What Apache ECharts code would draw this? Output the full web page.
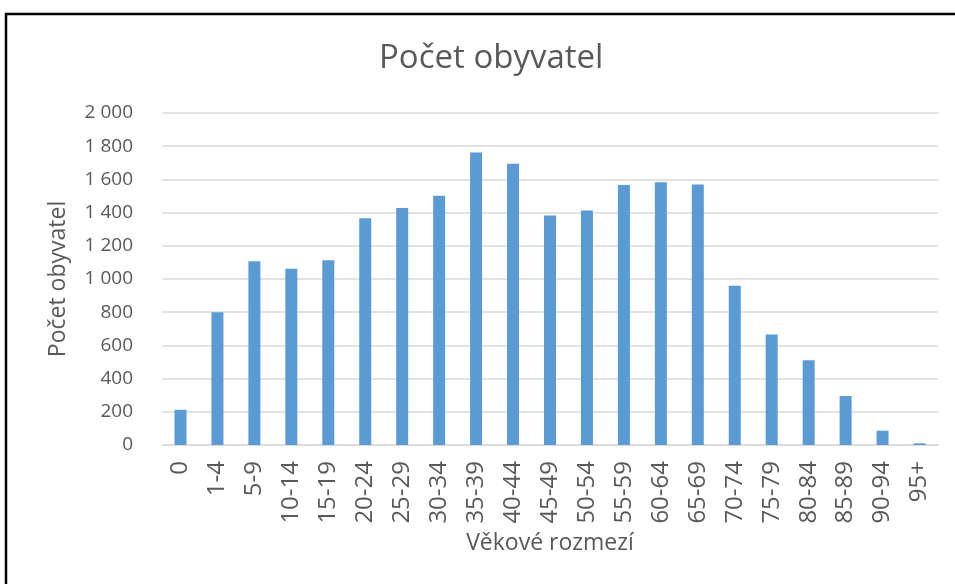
<!DOCTYPE html>
<html>
<head>
<meta charset="utf-8">
<title>Počet obyvatel</title>
<script src="https://cdn.jsdelivr.net/npm/echarts@6/dist/echarts.min.js"></script>
<style>
  html, body { margin: 0; padding: 0; background: #fff; }
  #chart { width: 955px; height: 584px; }
</style>
</head>
<body>
<div id="chart"></div>
<script>
// age groups and population counts
var ageGroups = ['0', '1-4', '5-9', '10-14', '15-19', '20-24', '25-29', '30-34', '35-39', '40-44',
  '45-49', '50-54', '55-59', '60-64', '65-69', '70-74', '75-79', '80-84', '85-89', '90-94', '95+'];
var population = [212, 800, 1107, 1061, 1113, 1366, 1428, 1501, 1762, 1695,
  1382, 1412, 1567, 1583, 1569, 959, 666, 510, 295, 86, 10];

var yMin = 0, yMax = 2000, yStep = 200;

var textColor = '#595959';
var fontName = 'Open Sans';

function spaced(v) {
  // thousands separator as in the original: "2 000"
  return String(v).replace(/\B(?=(\d{3})+(?!\d))/g, ' ');
}

var chart = echarts.init(document.getElementById('chart'), null, { renderer: 'canvas' });

var option = {
  backgroundColor: '#fff',
  animation: false,
  title: {
    text: 'Počet obyvatel',
    left: 374,
    top: 37,
    textStyle: { color: textColor, fontFamily: fontName, fontWeight: 'normal', fontSize: 33 }
  },
  grid: { left: 162, right: 17, top: 113, bottom: 139, containLabel: false },
  xAxis: {
    type: 'category',
    data: ageGroups,
    name: 'Věkové rozmezí',
    nameLocation: 'middle',
    nameGap: 85,
    nameTextStyle: { color: textColor, fontFamily: fontName, fontSize: 23 },
    axisLine: { lineStyle: { color: '#d9d9d9', width: 1.5 } },
    axisTick: { show: false },
    axisLabel: {
      rotate: 90,
      interval: 0,
      margin: 16,
      color: textColor,
      fontFamily: fontName,
      fontSize: 24
    }
  },
  yAxis: {
    type: 'value',
    min: yMin,
    max: yMax,
    interval: yStep,
    name: 'Počet obyvatel',
    nameLocation: 'middle',
    nameGap: 92,
    nameTextStyle: { color: textColor, fontFamily: fontName, fontSize: 23 },
    axisLine: { show: false },
    axisTick: { show: false },
    axisLabel: {
      margin: 29,
      color: textColor,
      fontFamily: fontName,
      fontSize: 19,
      formatter: spaced
    },
    splitLine: { lineStyle: { color: '#d9d9d9', width: 1.5 } }
  },
  series: [{
    name: 'Počet obyvatel',
    type: 'bar',
    data: population,
    barWidth: 12,
    itemStyle: { color: '#5b9bd5' }
  }],
  graphic: [{
    type: 'rect',
    shape: { x: 6, y: 14, width: 1000, height: 700 },
    style: { fill: null, stroke: '#000', lineWidth: 2.5 },
    silent: true
  }]
};

chart.setOption(option);
</script>
</body>
</html>
